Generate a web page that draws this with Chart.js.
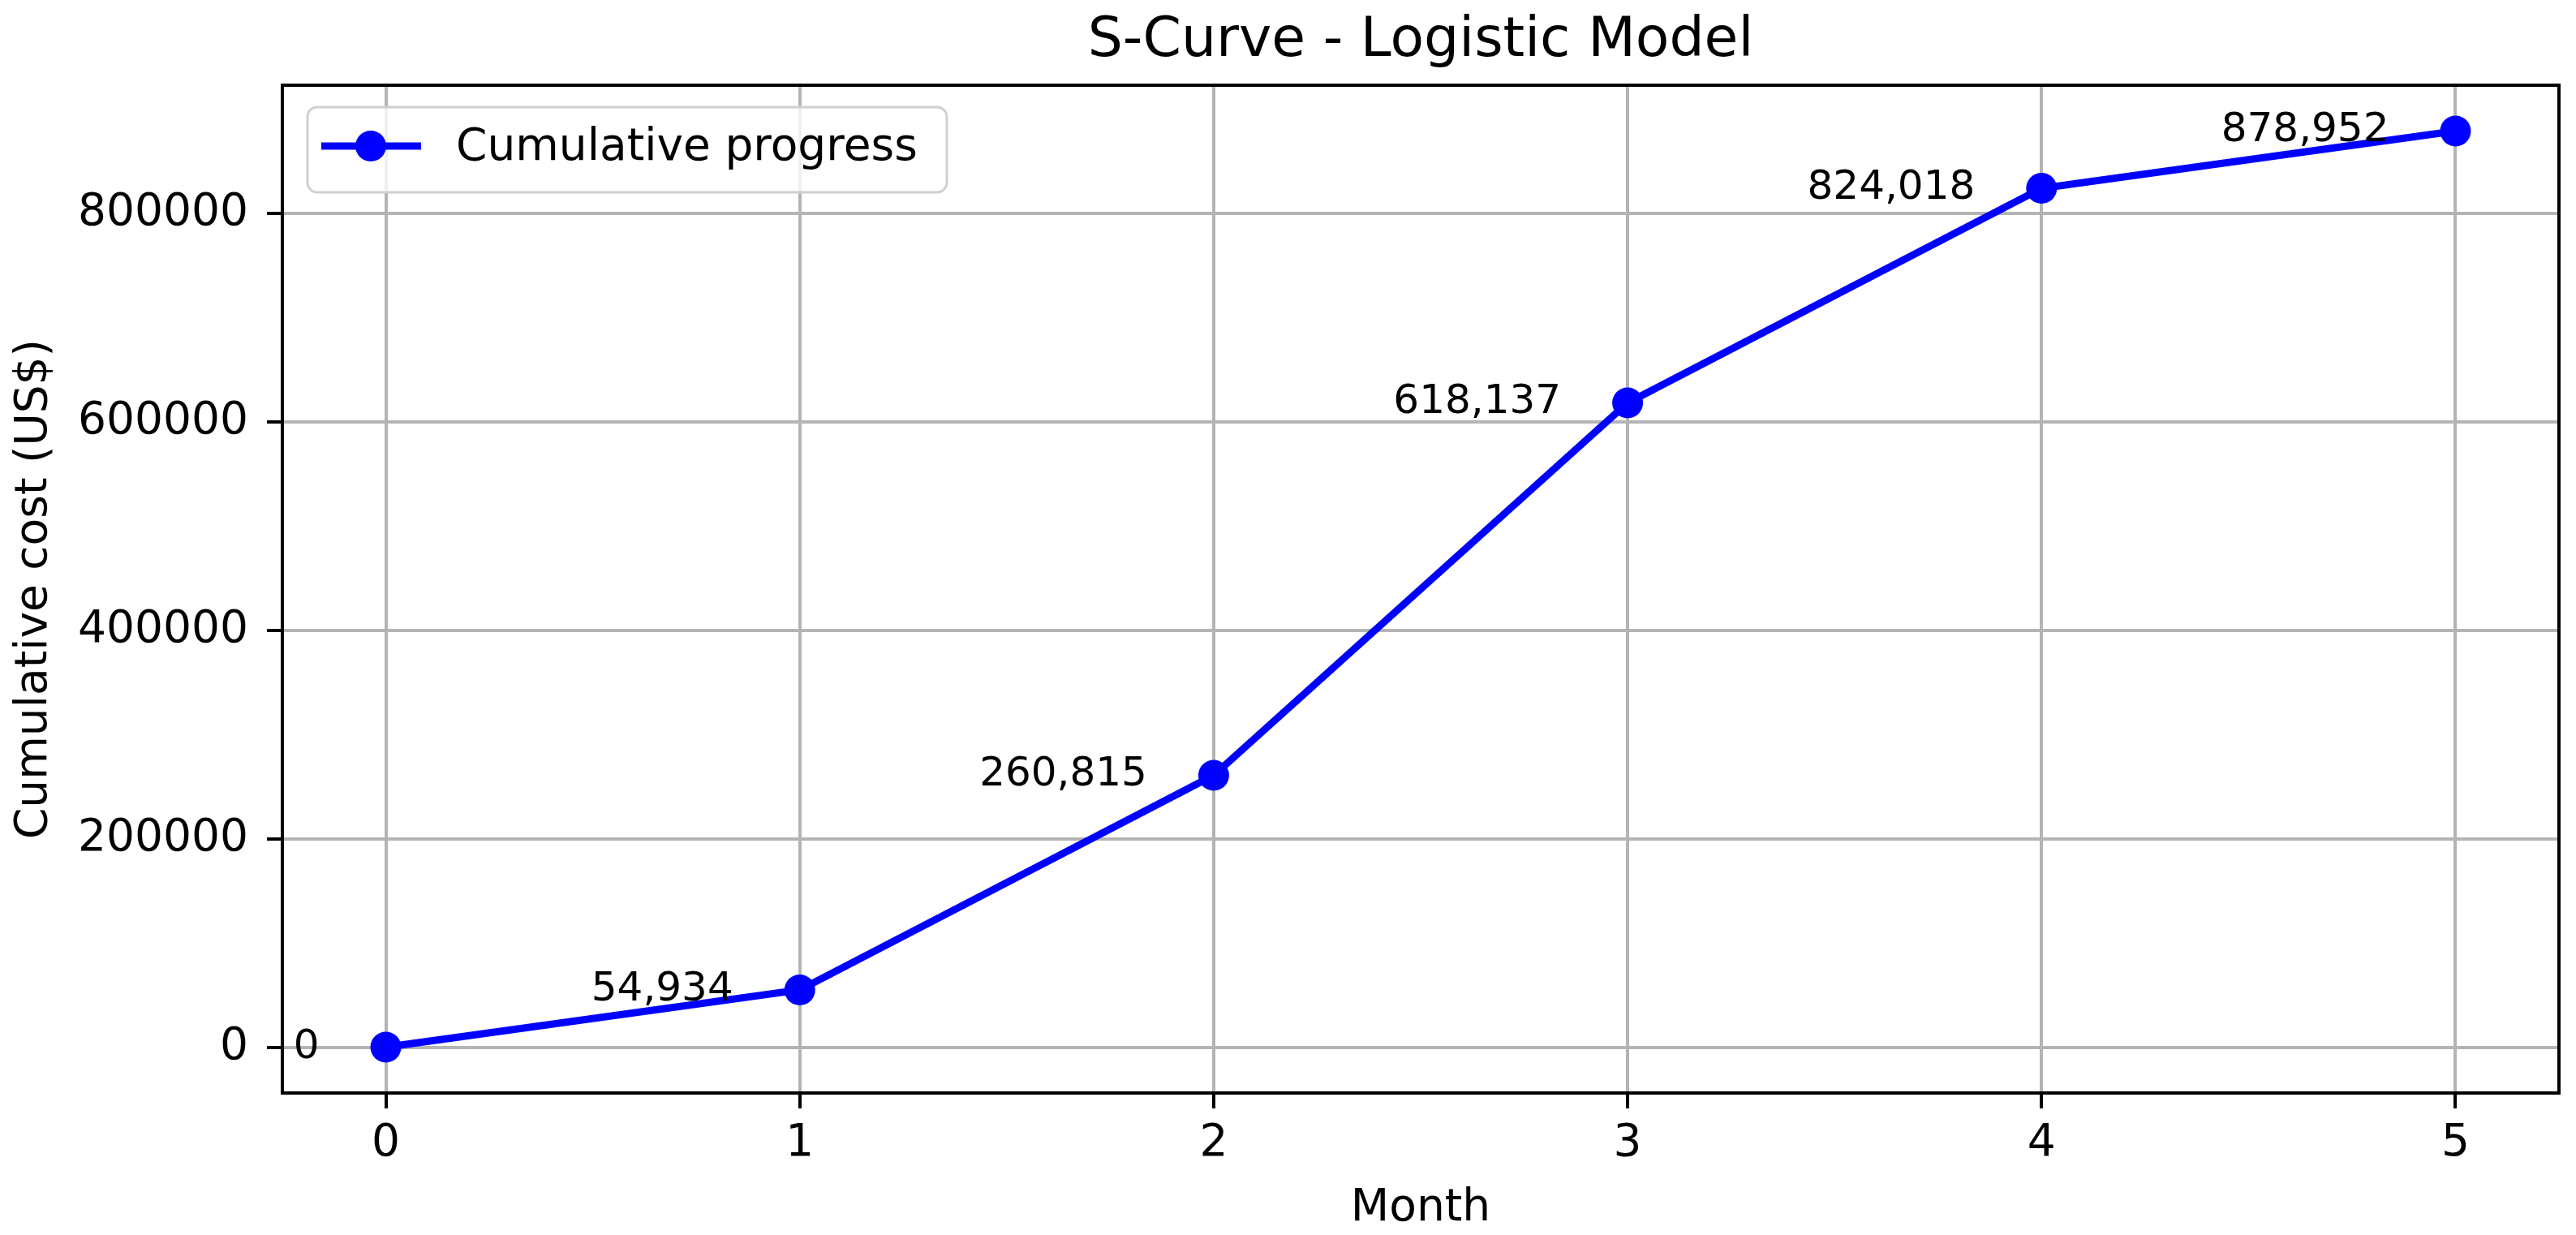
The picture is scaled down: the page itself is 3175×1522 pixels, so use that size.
<!DOCTYPE html>
<html>
<head>
<meta charset="utf-8">
<script src="https://cdn.jsdelivr.net/npm/chart.js@4.4.0/dist/chart.umd.min.js"></script>
<style>
  html, body { margin: 0; padding: 0; background: #fff; }
  canvas { display: block; }
</style>
</head>
<body>
<canvas id="sCurve" width="3175" height="1522"></canvas>
<script>
const months = [0, 1, 2, 3, 4, 5];
const cumulativeCost = [0, 54934, 260815, 618137, 824018, 878952];
const xTicks = [0, 1, 2, 3, 4, 5];
const yTicks = [0, 200000, 400000, 600000, 800000];
const seriesLabel = 'Cumulative progress';
const chartTitle = 'S-Curve - Logistic Model';

const blue = '#0000ff';
const gridGrey = '#b4b4b4';
const font = "'DejaVu Sans', sans-serif";

// matplotlib-style 5% margins around the data
const xPad = (Math.max(...months) - Math.min(...months)) * 0.05;
const yPad = (Math.max(...cumulativeCost) - Math.min(...cumulativeCost)) * 0.05;

// title over the plot, value labels, frame and in-plot legend
const extras = {
    id: 'extras',
    afterDatasetsDraw(chart) {
        const { ctx, chartArea: a, scales: { x, y } } = chart;
        ctx.save();

        ctx.font = `68px ${font}`;
        ctx.fillStyle = '#000';
        ctx.textAlign = 'center';
        ctx.textBaseline = 'middle';
        ctx.fillText(chartTitle, (a.left + a.right) / 2, 51);

        ctx.font = `50px ${font}`;
        ctx.textAlign = 'right';
        months.forEach((m, i) => {
            ctx.fillText(cumulativeCost[i].toLocaleString('en-US'),
                x.getPixelForValue(m) - 82, y.getPixelForValue(cumulativeCost[i]));
        });

        ctx.strokeStyle = '#000';
        ctx.lineWidth = 4;
        ctx.strokeRect(a.left, a.top, a.right - a.left, a.bottom - a.top);

        // legend box, upper left
        const lx = a.left + 31, ly = a.top + 27, lw = 788, lh = 105;
        ctx.beginPath();
        ctx.roundRect(lx, ly, lw, lh, 12);
        ctx.fillStyle = 'rgba(255,255,255,0.8)';
        ctx.fill();
        ctx.strokeStyle = '#d0d0d0';
        ctx.lineWidth = 3;
        ctx.stroke();

        const cy = ly + 48;
        ctx.strokeStyle = blue;
        ctx.lineWidth = 9;
        ctx.beginPath();
        ctx.moveTo(lx + 17, cy);
        ctx.lineTo(lx + 140, cy);
        ctx.stroke();
        ctx.fillStyle = blue;
        ctx.beginPath();
        ctx.arc(lx + 78, cy, 19, 0, Math.PI * 2);
        ctx.fill();

        ctx.font = `55px ${font}`;
        ctx.fillStyle = '#000';
        ctx.textAlign = 'left';
        ctx.textBaseline = 'middle';
        ctx.fillText(seriesLabel, lx + 183, cy + 3);

        ctx.restore();
    }
};

const ctxCurve = document.getElementById('sCurve').getContext('2d');
new Chart(ctxCurve, {
    type: 'line',
    data: {
        datasets: [{
            label: seriesLabel,
            data: months.map((m, i) => ({ x: m, y: cumulativeCost[i] })),
            borderColor: blue,
            backgroundColor: blue,
            borderWidth: 9,
            pointRadius: 19,
            pointHoverRadius: 19,
            pointBorderWidth: 0,
            pointBackgroundColor: blue,
            tension: 0,
            fill: false
        }]
    },
    options: {
        responsive: false,
        animation: false,
        layout: { padding: { left: 0, right: 21, top: 105, bottom: 0 } },
        plugins: {
            legend: { display: false },
            tooltip: { enabled: false },
            title: { display: false }
        },
        scales: {
            x: {
                type: 'linear',
                min: Math.min(...months) - xPad,
                max: Math.max(...months) + xPad,
                afterBuildTicks: s => { s.ticks = xTicks.map(v => ({ value: v })); },
                afterFit: s => { s.height = 175; },
                border: { display: false },
                grid: { color: gridGrey, lineWidth: 4, tickColor: '#000', tickLength: 19, tickWidth: 4 },
                ticks: { color: '#000', font: { family: font, size: 55 }, padding: 11, maxRotation: 0 },
                title: {
                    display: true, text: 'Month', color: '#000',
                    font: { family: font, size: 55, lineHeight: 1.17 },
                    padding: { top: 0, bottom: 0 }
                }
            },
            y: {
                min: Math.min(...cumulativeCost) - yPad,
                max: Math.max(...cumulativeCost) + yPad,
                afterBuildTicks: s => { s.ticks = yTicks.map(v => ({ value: v })); },
                afterFit: s => { s.width = 348; },
                border: { display: false },
                grid: { color: gridGrey, lineWidth: 4, tickColor: '#000', tickLength: 19, tickWidth: 4 },
                ticks: { color: '#000', font: { family: font, size: 55 }, padding: 23, callback: v => String(v) },
                title: {
                    display: true, text: 'Cumulative cost (US$)', color: '#000',
                    font: { family: font, size: 55 },
                    padding: { top: 10, bottom: 0 }
                }
            }
        }
    },
    plugins: [extras]
});
</script>
</body>
</html>
